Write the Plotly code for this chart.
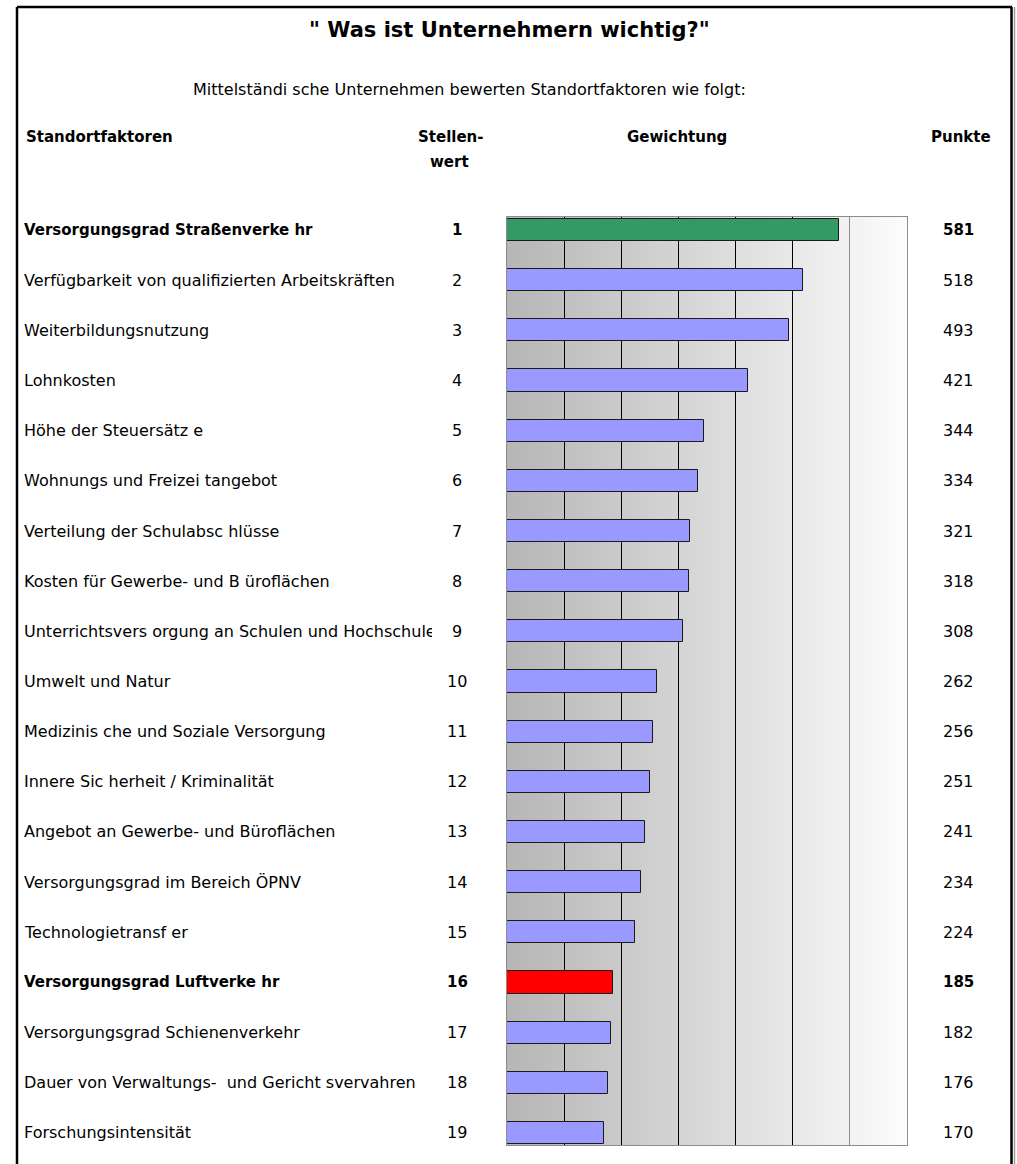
import plotly.graph_objects as go

# page size of the reference
W, H = 1017, 1164

# data
factors = [
    "Versorgungsgrad Straßenverke hr",
    "Verfügbarkeit von qualifizierten Arbeitskräften",
    "Weiterbildungsnutzung",
    "Lohnkosten",
    "Höhe der Steuersätz e",
    "Wohnungs und Freizei tangebot",
    "Verteilung der Schulabsc hlüsse",
    "Kosten für Gewerbe- und B üroflächen",
    "Unterrichtsvers orgung an Schulen und Hochschulen",
    "Umwelt und Natur",
    "Medizinis che und Soziale Versorgung",
    "Innere Sic herheit / Kriminalität",
    "Angebot an Gewerbe- und Büroflächen",
    "Versorgungsgrad im Bereich ÖPNV",
    "Technologietransf er",
    "Versorgungsgrad Luftverke hr",
    "Versorgungsgrad Schienenverkehr",
    "Dauer von Verwaltungs-  und Gericht svervahren",
    "Forschungsintensität",
]
ranks = [1, 2, 3, 4, 5, 6, 7, 8, 9, 10, 11, 12, 13, 14, 15, 16, 17, 18, 19]
points = [581, 518, 493, 421, 344, 334, 321, 318, 308, 262,
          256, 251, 241, 234, 224, 185, 182, 176, 170]
highlight = {1: "#339966", 16: "#ff0000"}

title = "\" Was ist Unternehmern wichtig?\""
subtitle = "Mittelständi sche Unternehmen bewerten Standortfaktoren wie folgt:"

FONT = "DejaVu Sans"
X_MAX = 700


def px(x):
    return x / W


def py(y):
    return 1 - y / H


bar_colors = [highlight.get(r, "#9999ff") for r in ranks]

fig = go.Figure()
fig.add_trace(go.Bar(
    x=points,
    y=ranks,
    orientation="h",
    width=0.44,
    marker=dict(color=bar_colors, line=dict(color="#1a1a1a", width=1)),
    hoverinfo="skip",
))

# grey gradient behind the bars (left dark -> right light)
# strips overlap a little so no seams show between them
shapes = []
n_strips = 80
step = X_MAX / n_strips
for i in range(n_strips):
    g = int(round(182 + (252 - 182) * i / (n_strips - 1)))
    shapes.append(dict(
        type="rect", layer="below", xref="x", yref="paper",
        x0=i * step, x1=min(X_MAX, (i + 1) * step + step * 0.6),
        y0=py(1145), y1=py(217),
        fillcolor=f"rgb({g},{g},{g})", line=dict(width=0),
    ))

# frame around the whole sheet (open at the bottom)
shapes += [
    dict(type="line", xref="paper", yref="paper", x0=px(17), x1=px(17),
         y0=py(7), y1=-0.01, line=dict(color="black", width=2.5)),
    dict(type="line", xref="paper", yref="paper", x0=px(17), x1=px(1012),
         y0=py(7), y1=py(7), line=dict(color="black", width=2.5)),
    dict(type="line", xref="paper", yref="paper", x0=px(1011.5), x1=px(1011.5),
         y0=py(7), y1=-0.01, line=dict(color="black", width=2.5)),
    dict(type="line", xref="paper", yref="paper", x0=px(1014.5), x1=px(1014.5),
         y0=py(7), y1=-0.01, line=dict(color="#9a9a9a", width=1.5)),
]

annotations = []


def note(text, x, y, size=16, bold=False, xanchor="left", yref="paper", **kw):
    annotations.append(dict(
        text=f"<b>{text}</b>" if bold else text,
        x=x, y=y, xref="paper", yref=yref,
        xanchor=xanchor, yanchor="middle", showarrow=False,
        font=dict(family=FONT, size=size, color="black"), **kw,
    ))


note(title, px(509), py(30), size=21, bold=True, xanchor="center")
note(subtitle, px(469), py(90), size=16, xanchor="center")
note("Standortfaktoren", px(24), py(137), size=15, bold=True)
note("Stellen-", px(451), py(137), size=15, bold=True, xanchor="center")
note("wert", px(449), py(162), size=15, bold=True, xanchor="center")
note("Gewichtung", px(677), py(137), size=15, bold=True, xanchor="center")
note("Punkte", px(961), py(137), size=15, bold=True, xanchor="center")

for r, name, p in zip(ranks, factors, points):
    b = r in highlight
    sz = 15 if b else 16
    note(name, px(22), r, size=sz, bold=b, yref="y", width=408, align="left")
    note(str(r), px(457), r, size=sz, bold=b, xanchor="center", yref="y")
    note(str(p), px(958), r, size=sz, bold=b, xanchor="center", yref="y")

fig.update_layout(
    width=W, height=H,
    margin=dict(l=0, r=0, t=0, b=0),
    paper_bgcolor="white",
    plot_bgcolor="white",
    showlegend=False,
    bargap=0,
    shapes=shapes,
    annotations=annotations,
    xaxis=dict(
        domain=[px(507), px(907)],
        range=[0, X_MAX],
        tickvals=[100, 200, 300, 400, 500],
        showgrid=True, gridcolor="black", gridwidth=1,
        minor=dict(tickvals=[600], showgrid=True, gridcolor="#8c8c8c", gridwidth=1),
        showticklabels=False, ticks="",
        zeroline=False,
        showline=True, mirror=True, linecolor="#8c8c8c", linewidth=1,
        fixedrange=True,
    ),
    yaxis=dict(
        domain=[py(1145), py(217)],
        range=[19.24, 0.74],
        showgrid=False, showticklabels=False, ticks="",
        zeroline=False,
        showline=True, mirror=True, linecolor="#8c8c8c", linewidth=1,
        fixedrange=True,
    ),
)

fig.write_html(
    "out.html",
    config={"displayModeBar": False},
    post_script="document.body.style.margin='0';document.body.style.overflow='hidden';",
)
